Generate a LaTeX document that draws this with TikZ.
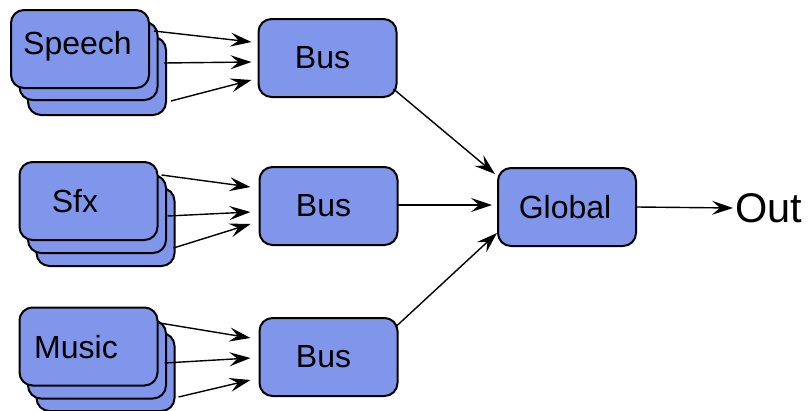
\documentclass[tikz,border=0pt]{standalone}
\usepackage{fontspec}
\setmainfont{Liberation Sans}
\usetikzlibrary{arrows.meta}
\definecolor{boxblue}{HTML}{7F96EB}
\tikzset{
  box/.style={draw=black, line width=2pt, fill=boxblue, rounded corners=13pt,
    minimum width=138pt, minimum height=78pt, inner sep=0pt, anchor=center,
    font=\fontsize{32}{36}\selectfont},
  lbl/.style={font=\fontsize{32}{36}\selectfont, inner sep=0pt},
  arr/.style={line width=1.4pt, -{Stealth[length=21pt,width=14pt,inset=8pt]}},
}
\begin{document}
\begin{tikzpicture}[x=1pt,y=-1pt]
\useasboundingbox (0,0) rectangle (809,410);
% Speech stack
\node[box] (sp3) at (97,76) {};
\node[box] (sp2) at (88.5,61) {};
\node[box] (sp1) at (80,49) {};
\node[lbl] (spt) at (77.5,46) {Speech};
% Sfx stack
\node[box] (sf3) at (105.5,227) {};
\node[box] (sf2) at (97,214) {};
\node[box] (sf1) at (88.5,201) {};
\node[lbl] (sft) at (75,201) {Sfx};
% Music stack
\node[box] (mu3) at (105.5,372) {};
\node[box] (mu2) at (97,359.5) {};
\node[box] (mu1) at (88.5,346.5) {};
\node[lbl] (mut) at (76,347) {Music};
% Buses
\node[box] (b1) at (327.5,58) {\kern-10pt Bus};
\node[box] (b2) at (328.5,206) {\kern-10pt Bus};
\node[box] (b3) at (328.5,357) {\kern-10pt Bus};
% Global
\node[box] (gl) at (567,207) {\kern-4pt Global};
% Out
\node[font=\fontsize{41.5}{46}\selectfont, inner sep=0pt, anchor=west] (out) at (735,208) {Out};
% Speech arrows
\draw[arr] ([shift={(4,-18)}]sp1.east) -- ([shift={(-6,-16)}]b1.west);
\draw[arr] ([shift={(14,14)}]sp1.east) -- ([shift={(-6,4)}]b1.west);
\draw[arr] ([shift={(21,52)}]sp1.east) -- ([shift={(-6,22)}]b1.west);
% Sfx arrows
\draw[arr] ([shift={(3,-26)}]sf1.east) -- ([shift={(-8,-19)}]b2.west);
\draw[arr] ([shift={(9,15)}]sf1.east) -- ([shift={(-8,6)}]b2.west);
\draw[arr] ([shift={(15,47)}]sf1.east) -- ([shift={(-8,18)}]b2.west);
% Music arrows
\draw[arr] ([shift={(1,-23.5)}]mu1.east) -- ([shift={(-8,-19)}]b3.west);
\draw[arr] ([shift={(6,16.5)}]mu1.east) -- ([shift={(-8,1)}]b3.west);
\draw[arr] ([shift={(20,50.5)}]mu1.east) -- ([shift={(-8,23)}]b3.west);
% Buses to Global
\draw[arr] ([shift={(-4,-9)}]b1.south east) -- ([shift={(-2,7)}]gl.north west);
\draw[arr] ([shift={(-1,-1)}]b2.east) -- ([shift={(-5,-2)}]gl.west);
\draw[arr] ([shift={(-3,10)}]b3.north east) -- ([shift={(0,-14)}]gl.south west);
% Global to Out
\draw[arr] (gl.east) -- ([shift={(-2,0)}]out.west);
\end{tikzpicture}
\end{document}
